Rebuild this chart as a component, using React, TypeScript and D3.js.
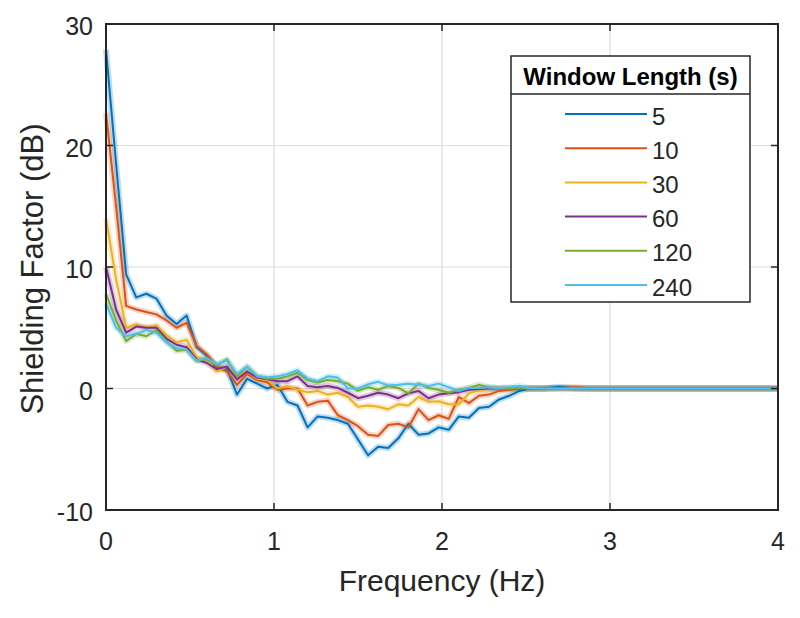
import React from "react";
import * as d3 from "d3";

const freqs = [
  0, 0.06, 0.12, 0.18, 0.24, 0.3, 0.36, 0.42, 0.48, 0.54, 0.6, 0.66, 0.72, 0.78, 0.84, 0.9, 0.96,
  1.02, 1.08, 1.14, 1.2, 1.26, 1.32, 1.38, 1.44, 1.5, 1.56, 1.62, 1.68, 1.74, 1.8, 1.86, 1.92, 1.98,
  2.04, 2.1, 2.16, 2.22, 2.28, 2.34, 2.4, 2.46, 2.52, 2.6, 2.7, 2.8, 2.9, 3.0, 4.0,
];

const win5 = [
  27.9, 18.5, 9.4, 7.5, 7.8, 7.4, 6.0, 5.3, 6.0, 3.4, 2.7, 1.7, 1.6, -0.5, 0.8, 0.4, 0.0,
  0.3, -1.1, -1.4, -3.2, -2.3, -2.4, -2.6, -2.9, -4.2, -5.5, -4.8, -4.9, -4.1, -2.9, -3.8, -3.7, -3.2,
  -3.4, -2.3, -2.4, -1.6, -1.5, -0.9, -0.6, -0.2, 0.0, 0.0, 0.15, 0.0, 0.0, 0.0, 0.0,
];
const win10 = [
  22.7, 15.0, 6.8, 6.5, 6.3, 6.1, 5.6, 5.0, 5.4, 3.5, 2.8, 1.8, 1.4, 0.3, 1.2, 0.7, 0.5,
  -0.1, 0.0, 0.0, -1.4, -1.1, -1.0, -2.2, -2.6, -3.1, -3.8, -3.9, -3.0, -2.9, -3.2, -1.7, -2.6, -2.2,
  -2.5, -0.7, -1.2, -0.6, -0.5, -0.2, -0.1, 0.0, 0.0, 0.0, 0.05, 0.1, 0.0, 0.0, 0.0,
];
const win30 = [
  14.0, 9.0, 5.0, 5.3, 5.0, 5.2, 4.4, 3.8, 4.0, 2.6, 2.4, 1.4, 1.8, 1.0, 1.4, 0.8, 0.7,
  0.0, 0.2, -0.1, -0.3, -0.2, -0.5, -0.35, -0.7, -1.5, -1.4, -1.5, -1.7, -1.3, -1.4, -0.7, -1.1, -1.05,
  -1.3, -1.3, -0.4, -0.15, -0.05, 0.0, 0.0, 0.05, 0.0, 0.0, 0.0, 0.0, 0.0, 0.0, 0.0,
];
const win60 = [
  10.0, 6.5, 4.6, 5.1, 5.0, 5.0, 4.1, 3.6, 3.4, 2.4, 2.1, 1.6, 1.8, 0.75, 1.4, 0.9, 0.75,
  0.6, 0.6, 1.0, 0.2, 0.1, 0.2, 0.05, -0.35, -0.8, -0.6, -0.35, -0.5, -0.8, -0.4, -0.2, -0.8, -0.5,
  -0.4, -0.3, -0.1, -0.05, 0.0, 0.0, 0.0, 0.0, 0.0, 0.0, 0.05, 0.0, 0.0, 0.0, 0.0,
];
const win120 = [
  7.8, 5.6, 3.9, 4.5, 4.3, 4.8, 3.9, 3.1, 3.2, 2.3, 2.4, 1.9, 2.4, 1.0, 1.8, 1.0, 0.8,
  0.8, 1.0, 1.3, 0.7, 0.5, 0.7, 0.6, 0.4, -0.2, 0.1, -0.1, 0.2, 0.05, -0.4, 0.4, 0.05, -0.1,
  -0.35, -0.1, 0.05, 0.3, 0.1, 0.0, 0.0, 0.05, 0.0, 0.0, 0.0, 0.0, 0.0, 0.0, 0.0,
];
const win240 = [
  7.0, 5.0, 4.3, 4.5, 4.8, 4.6, 3.8, 3.3, 3.2, 2.3, 2.5, 2.0, 2.3, 1.2, 1.8, 1.0, 0.9,
  1.0, 1.2, 1.5, 0.8, 0.6, 1.0, 0.9, 0.0, 0.0, 0.35, 0.55, 0.25, 0.3, 0.4, 0.3, 0.2, 0.4,
  0.1, -0.2, 0.05, 0.05, 0.1, 0.05, 0.1, 0.2, 0.05, 0.0, 0.0, 0.0, 0.0, 0.0, 0.0,
];

const seriesNames = ["5", "10", "30", "60", "120", "240"];
const seriesValues = [win5, win10, win30, win60, win120, win240];
const seriesColors = ["#0072BD", "#D95319", "#EDB120", "#7E2F8E", "#77AC30", "#4DBEEE"];

const xTicks = [0, 1, 2, 3, 4];
const yTicks = [-10, 0, 10, 20, 30];
const legendTitle = "Window Length (s)";
const xTitle = "Frequency (Hz)";
const yTitle = "Shielding Factor (dB)";

const W = 800;
const H = 618;
const L = 106, R = 778, T = 24, B = 510;
const FONT = "'Liberation Sans', Arial, Helvetica, sans-serif";
const TXT = "#262626";

export default function App() {
  const x = d3.scaleLinear().domain([0, 4]).range([L, R]);
  const y = d3.scaleLinear().domain([-10, 30]).range([B, T]);
  const line = d3
    .line<[number, number]>()
    .x((d) => x(d[0]))
    .y((d) => y(d[1]));

  const legX = 511, legY = 56, legW = 239, legH = 246;
  const headerH = 38;

  return (
    <svg
      width={W}
      height={H}
      style={{ position: "absolute", left: 0, top: 0, background: "#fff" }}
    >
      <rect x={0} y={0} width={W} height={H} fill="#fff" />
      {xTicks.map((t) => (
        <line key={"gx" + t} x1={x(t)} x2={x(t)} y1={T} y2={B} stroke="#dcdcdc" strokeWidth={1.2} />
      ))}
      {yTicks.map((t) => (
        <line key={"gy" + t} x1={L} x2={R} y1={y(t)} y2={y(t)} stroke="#dcdcdc" strokeWidth={1.2} />
      ))}
      {seriesValues.map((vals, i) => (
        <path
          key={"h" + i}
          d={line(freqs.map((f, j) => [f, vals[j]]) as [number, number][]) || ""}
          fill="none"
          stroke={seriesColors[i]}
          strokeOpacity={0.25}
          strokeWidth={6}
          strokeLinejoin="round"
        />
      ))}
      {seriesValues.map((vals, i) => (
        <path
          key={"s" + i}
          d={line(freqs.map((f, j) => [f, vals[j]]) as [number, number][]) || ""}
          fill="none"
          stroke={seriesColors[i]}
          strokeWidth={2}
          strokeLinejoin="round"
        />
      ))}
      <rect x={L} y={T} width={R - L} height={B - T} fill="none" stroke="#262626" strokeWidth={2} />
      {xTicks.map((t) => (
        <g key={"xt" + t}>
          <line x1={x(t)} x2={x(t)} y1={B} y2={B - 7} stroke="#262626" strokeWidth={1.5} />
          <line x1={x(t)} x2={x(t)} y1={T} y2={T + 7} stroke="#262626" strokeWidth={1.5} />
          <text
            x={x(t)}
            y={541}
            textAnchor="middle"
            dominantBaseline="central"
            fontFamily={FONT}
            fontSize={25}
            fill={TXT}
          >
            {t}
          </text>
        </g>
      ))}
      {yTicks.map((t) => (
        <g key={"yt" + t}>
          <line x1={L} x2={L + 7} y1={y(t)} y2={y(t)} stroke="#262626" strokeWidth={1.5} />
          <line x1={R} x2={R - 7} y1={y(t)} y2={y(t)} stroke="#262626" strokeWidth={1.5} />
          <text
            x={93}
            y={y(t) + 2}
            textAnchor="end"
            dominantBaseline="central"
            fontFamily={FONT}
            fontSize={25}
            fill={TXT}
          >
            {t}
          </text>
        </g>
      ))}
      <text
        x={(L + R) / 2}
        y={580}
        textAnchor="middle"
        dominantBaseline="central"
        fontFamily={FONT}
        fontSize={30}
        fill={TXT}
      >
        {xTitle}
      </text>
      <text
        transform={`translate(32, ${(T + B) / 2 + 2}) rotate(-90)`}
        textAnchor="middle"
        dominantBaseline="central"
        fontFamily={FONT}
        fontSize={31}
        fill={TXT}
      >
        {yTitle}
      </text>
      <rect x={legX} y={legY} width={legW} height={legH} fill="#fff" stroke="#262626" strokeWidth={1.5} />
      <line x1={legX} x2={legX + legW} y1={legY + headerH} y2={legY + headerH} stroke="#262626" strokeWidth={1.5} />
      <text
        x={legX + legW / 2}
        y={legY + headerH / 2 + 1}
        textAnchor="middle"
        dominantBaseline="central"
        fontFamily={FONT}
        fontSize={24}
        fontWeight="bold"
        fill="#000"
      >
        {legendTitle}
      </text>
      {seriesNames.map((n, i) => {
        const yy = legY + headerH + 20 + i * 34.2;
        return (
          <g key={"lg" + i}>
            <line x1={565} x2={647} y1={yy} y2={yy} stroke={seriesColors[i]} strokeWidth={2} />
            <text
              x={652}
              y={yy + 2}
              dominantBaseline="central"
              fontFamily={FONT}
              fontSize={24}
              fill={TXT}
            >
              {n}
            </text>
          </g>
        );
      })}
    </svg>
  );
}
